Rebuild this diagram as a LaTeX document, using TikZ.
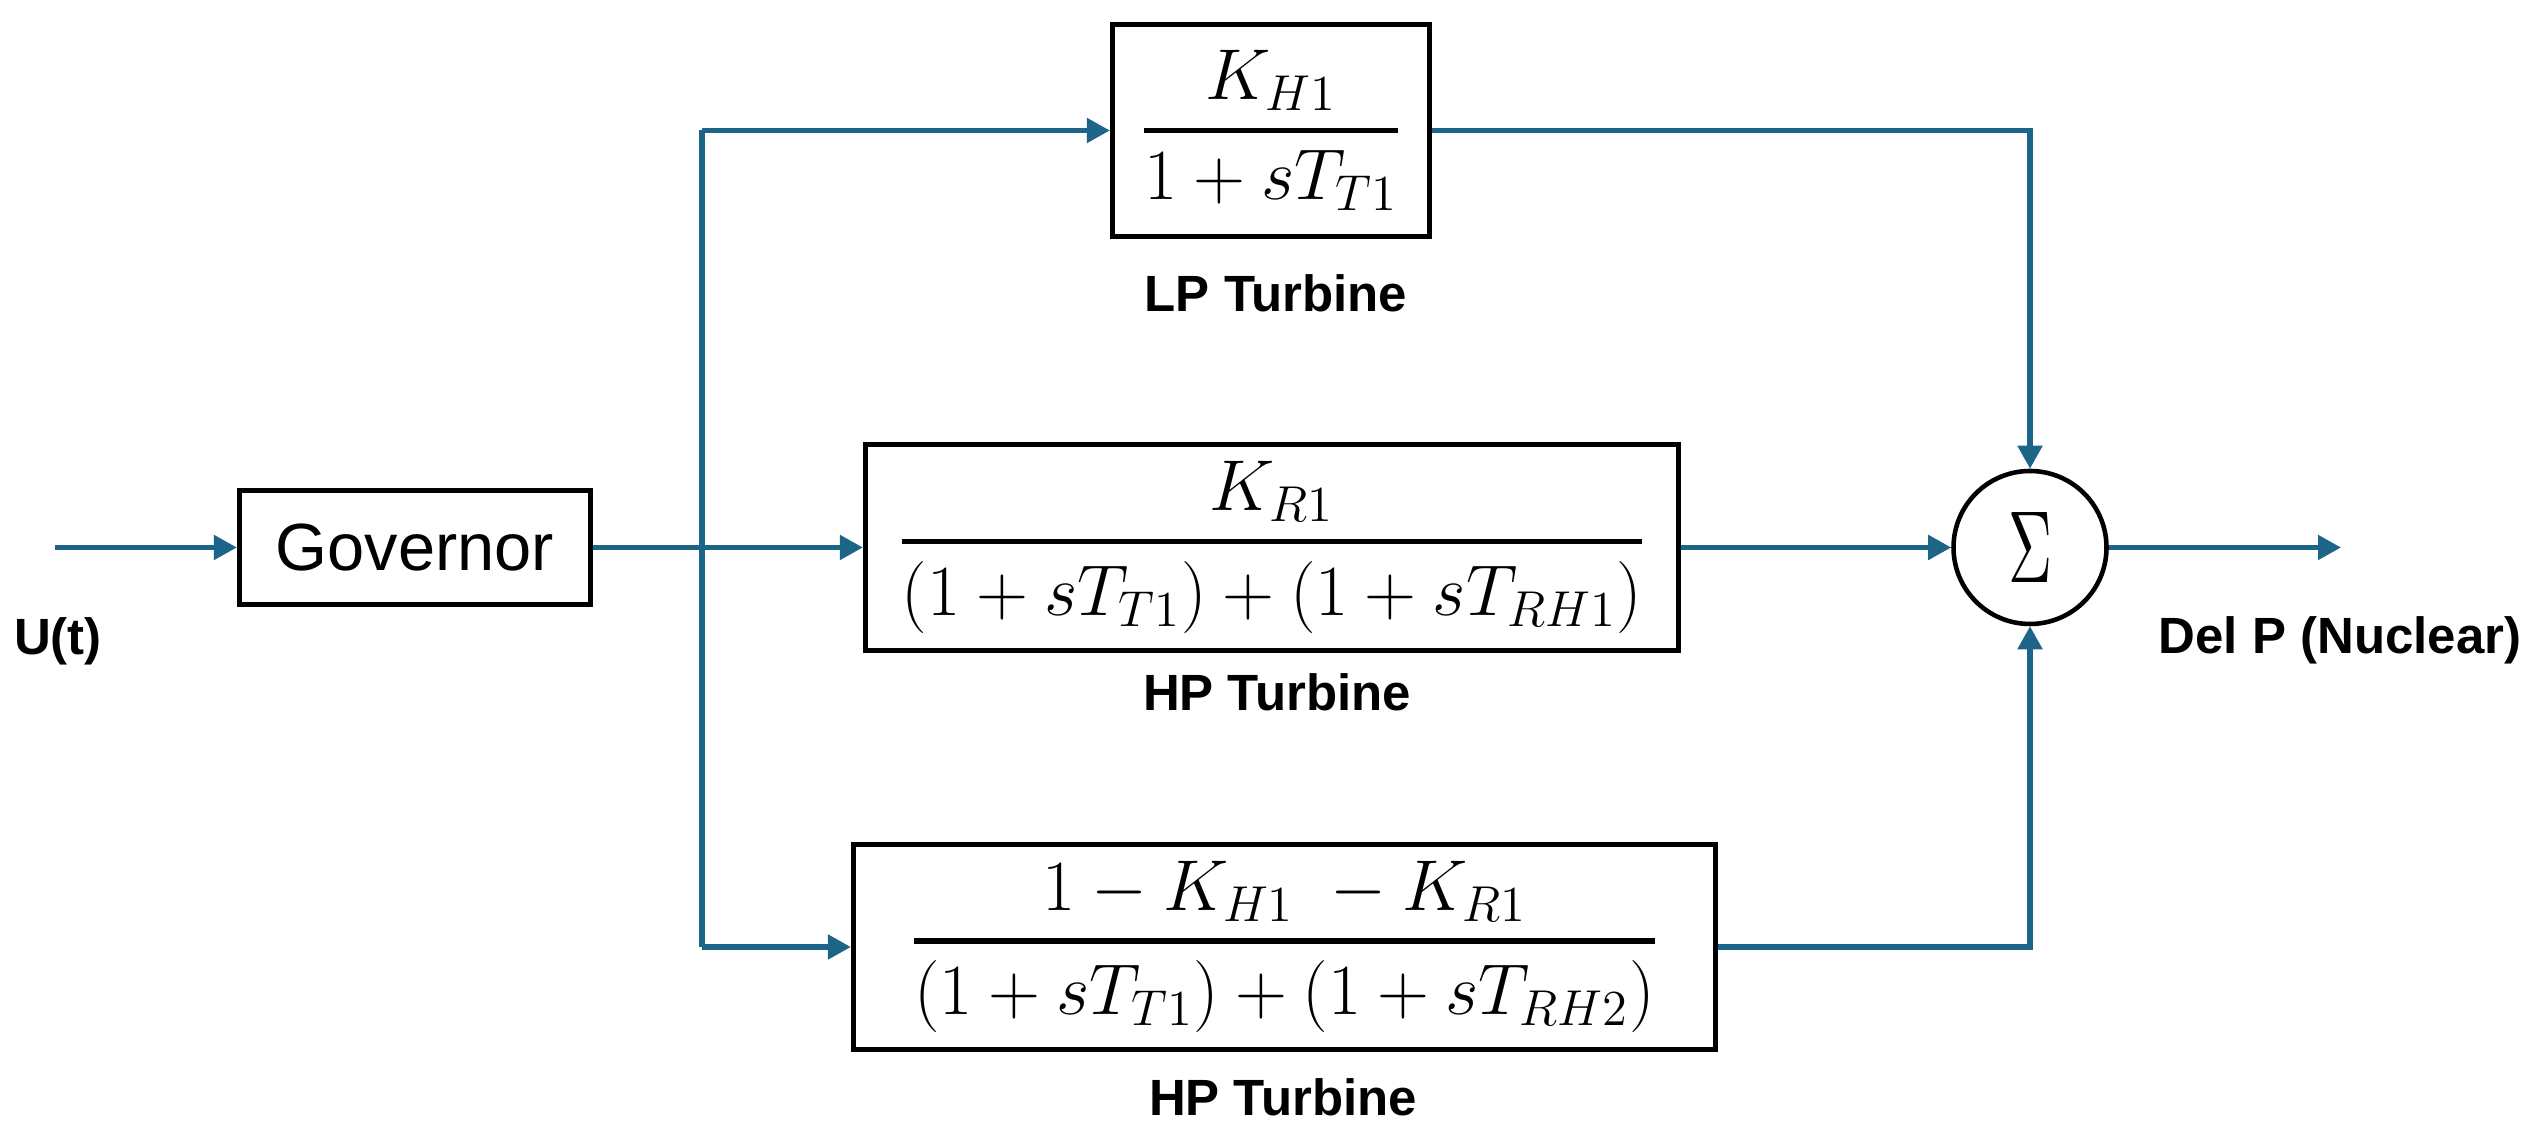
\RequirePackage{fix-cm}
\documentclass[tikz,border=0pt]{standalone}
\usepackage{amsmath}
\usepackage[no-math]{fontspec}
\usepackage{graphicx}
\newfontfamily\labfont{Liberation Sans}
\usetikzlibrary{arrows.meta}
\definecolor{ln}{RGB}{28,100,136}
\newcommand{\myfr}[2]{\genfrac{}{}{1.6pt}{0}{#1}{#2}}
\begin{document}
\begin{tikzpicture}[
  blk/.style={draw=black, line width=1.5pt, inner sep=0pt, align=center, font=\fontsize{20.5}{24}\selectfont},
  lbl/.style={font=\labfont\bfseries\fontsize{14.5}{17}\selectfont, inner sep=0pt},
  conn/.style={draw=ln, line width=1.45pt},
  arr/.style={conn, -{Triangle[length=0.23cm,width=0.24cm]}},
  sumnode/.style={circle, draw=black, line width=1.3pt, minimum size=1.53cm, inner sep=0pt}
]
\useasboundingbox (0,0) rectangle (25.46,11.35);
% blocks
\node[blk, minimum width=3.51cm, minimum height=1.14cm, font=\labfont\fontsize{19}{23}\selectfont] (gov) at (4.15,5.875) {Governor};
\node[blk, minimum width=3.17cm, minimum height=2.12cm] (lp) at (12.71,10.045) {$\myfr{K_{H1}}{1+sT_{T1}}$};
\node[blk, minimum width=8.13cm, minimum height=2.06cm] (hp1) at (12.72,5.875) {$\myfr{K_{R1}}{(1+sT_{T1})+(1+sT_{RH1})}$};
\node[blk, minimum width=8.62cm, minimum height=2.05cm] (hp2) at (12.845,1.88) {$\myfr{1-K_{H1}\;-K_{R1}}{(1+sT_{T1})+(1+sT_{RH2})}$};
\node[sumnode] (sum) at (20.30,5.875) {\resizebox{0.44cm}{0.70cm}{$\Sigma$}};
% labels
\node[lbl] (ut) at (0.58,4.94) {U(t)};
\node[lbl] (lpl) at (12.76,8.42) {LP Turbine};
\node[lbl] (hpl1) at (12.77,4.43) {HP Turbine};
\node[lbl] (hpl2) at (12.83,0.38) {HP Turbine};
\node[lbl] (del) at (23.40,4.95) {Del P (Nuclear)};
% coordinates
\coordinate (in) at (0.55,5.875);
\coordinate (jt) at (7.02,10.045);
\coordinate (jb) at (7.02,1.88);
\coordinate (out) at (23.41,5.875);
% connectors
\draw[arr] (in) -- (gov);
\draw[arr] (gov) -- (hp1);
\draw[conn] (jt) -- (jb);
\draw[arr] (jt) -- (lp);
\draw[arr] (jb) -- (hp2);
\draw[arr] (lp) -| (sum);
\draw[arr] (hp1) -- (sum);
\draw[arr] (hp2) -| (sum);
\draw[arr] (sum) -- (out);
\end{tikzpicture}
\end{document}
